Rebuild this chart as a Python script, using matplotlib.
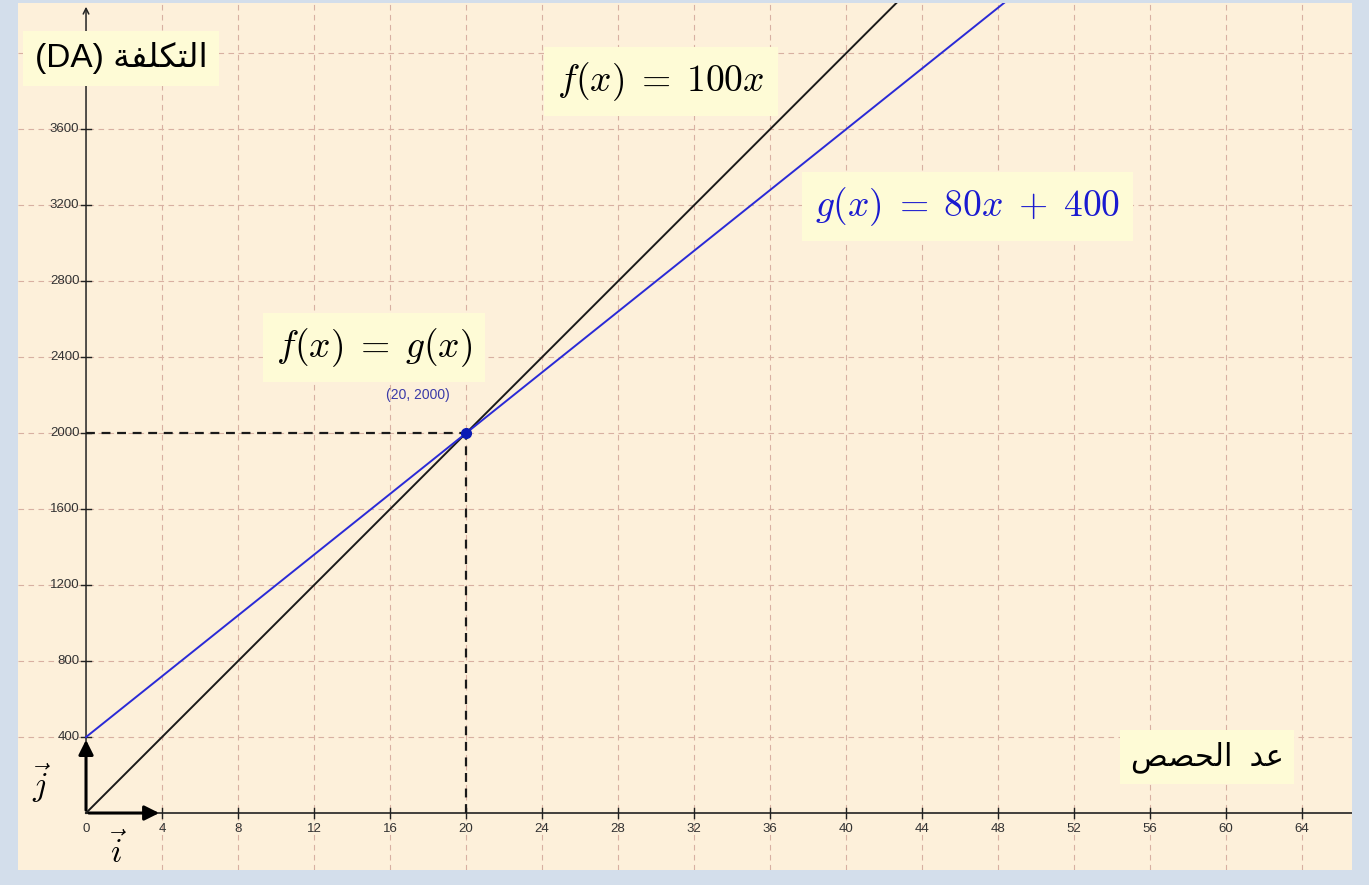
import matplotlib.pyplot as plt

# Datos
x_ticks = [4, 8, 12, 16, 20, 24, 28, 32, 36, 40, 44, 48, 52, 56, 60, 64]
y_ticks = [400, 800, 1200, 1600, 2000, 2400, 2800, 3200, 3600]
x_line = [0, 50]
f_vals = [0, 5000]          # f(x) = 100x
g_vals = [400, 4400]        # g(x) = 80x + 400
punto = (20, 2000)

# etiquetas (arabe en formas de presentacion, orden visual)
lbl_y = "(DA) " + "\ufe94\ufed4\ufee0\ufedc\ufe98\ufedf\ufe8d"      # التكلفة
lbl_x = "\ufeba\ufebc\ufea4\ufedf\ufe8d" + "  " + "\ufeaa\ufecb"     # عد الحصص

bg = '#fdf0da'
caja = dict(boxstyle='square,pad=0.35', fc='#fefbd6', ec='none')
plt.rcParams['mathtext.fontset'] = 'cm'
fam = ['Liberation Sans', 'DejaVu Sans']

fig = plt.figure(figsize=(13.69, 8.85), dpi=100, facecolor='#d3deeb')
ax = fig.add_axes([18 / 1369, 15 / 885, 1334 / 1369, 867 / 885])
ax.set_facecolor(bg)
ax.set_xlim(-3.58, 66.63)
ax.set_ylim(-300, 4265)
for s in ax.spines.values():
    s.set_visible(False)
ax.set_xticks([])
ax.set_yticks([])

# cuadricula
for xv in x_ticks + [68]:
    ax.axvline(xv, color='#d8b0a2', lw=0.8, dashes=(5, 4), zorder=1)
for yv in y_ticks + [4000]:
    ax.axhline(yv, color='#d8b0a2', lw=0.8, dashes=(5, 4), zorder=1)

# ejes
ax.plot([0, 66.63], [0, 0], color='#222222', lw=1.2, zorder=3)
ax.annotate('', xy=(0, 4260), xytext=(0, 0),
            arrowprops=dict(arrowstyle='->', lw=1.1, color='#222222', mutation_scale=10), zorder=3)
for xv in x_ticks:
    ax.plot([xv, xv], [-25, 25], color='#222222', lw=1, zorder=3)
    ax.text(xv, -55, str(xv), ha='center', va='top', fontsize=9.5, color='#333333', family=fam)
for yv in y_ticks:
    ax.plot([-0.25, 0.25], [yv, yv], color='#222222', lw=1, zorder=3)
    ax.text(-0.35, yv, str(yv), ha='right', va='center', fontsize=9.5, color='#333333', family=fam)
ax.text(0, -55, '0', ha='center', va='top', fontsize=9.5, color='#333333', family=fam)

# vectores unitarios
ax.annotate('', xy=(4, 0), xytext=(0, 0),
            arrowprops=dict(arrowstyle='-|>', lw=2.2, color='black', mutation_scale=22), zorder=4)
ax.annotate('', xy=(0, 400), xytext=(0, 0),
            arrowprops=dict(arrowstyle='-|>', lw=2.2, color='black', mutation_scale=22), zorder=4)
ax.text(1.68, -200, r'$\vec{i}$', ha='center', va='center', fontsize=24)
ax.text(-2.35, 155, r'$\vec{j}$', ha='center', va='center', fontsize=24)

# rectas
ax.plot(x_line, f_vals, color='#1a1a1a', lw=1.4, zorder=5)
ax.plot(x_line, g_vals, color='#2a2ad6', lw=1.4, zorder=5)

# interseccion
ax.plot([0, punto[0]], [punto[1], punto[1]], color='#1a1a1a', lw=1.6, dashes=(4, 3), zorder=4)
ax.plot([punto[0], punto[0]], [0, punto[1]], color='#1a1a1a', lw=1.6, dashes=(4, 3), zorder=4)
ax.plot(punto[0], punto[1], 'o', color='#0a1ab4', ms=7, zorder=6)
ax.text(17.47, 2200, '(20, 2000)', ha='center', va='center', fontsize=10, color='#3a3aa8', family=fam)

# cajas de texto
ax.text(1.84, 3974, lbl_y, ha='center', va='center', fontsize=24, family=fam, bbox=caja, zorder=7)
ax.text(30.26, 3853, r'$f(x) \;=\; 100x$', ha='center', va='center', fontsize=27,
        bbox=caja, zorder=7)
ax.text(46.4, 3195, r'$g(x) \;=\; 80x \;+\; 400$', ha='center', va='center', fontsize=27,
        color='#1a1ad0', bbox=caja, zorder=7)
ax.text(15.16, 2453, r'$f(x) \;=\; g(x)$', ha='center', va='center', fontsize=27,
        bbox=caja, zorder=7)
ax.text(59.0, 295, lbl_x, ha='center', va='center', fontsize=22, family=fam, bbox=caja, zorder=7)

plt.savefig('out.png', dpi=100, facecolor=fig.get_facecolor())
